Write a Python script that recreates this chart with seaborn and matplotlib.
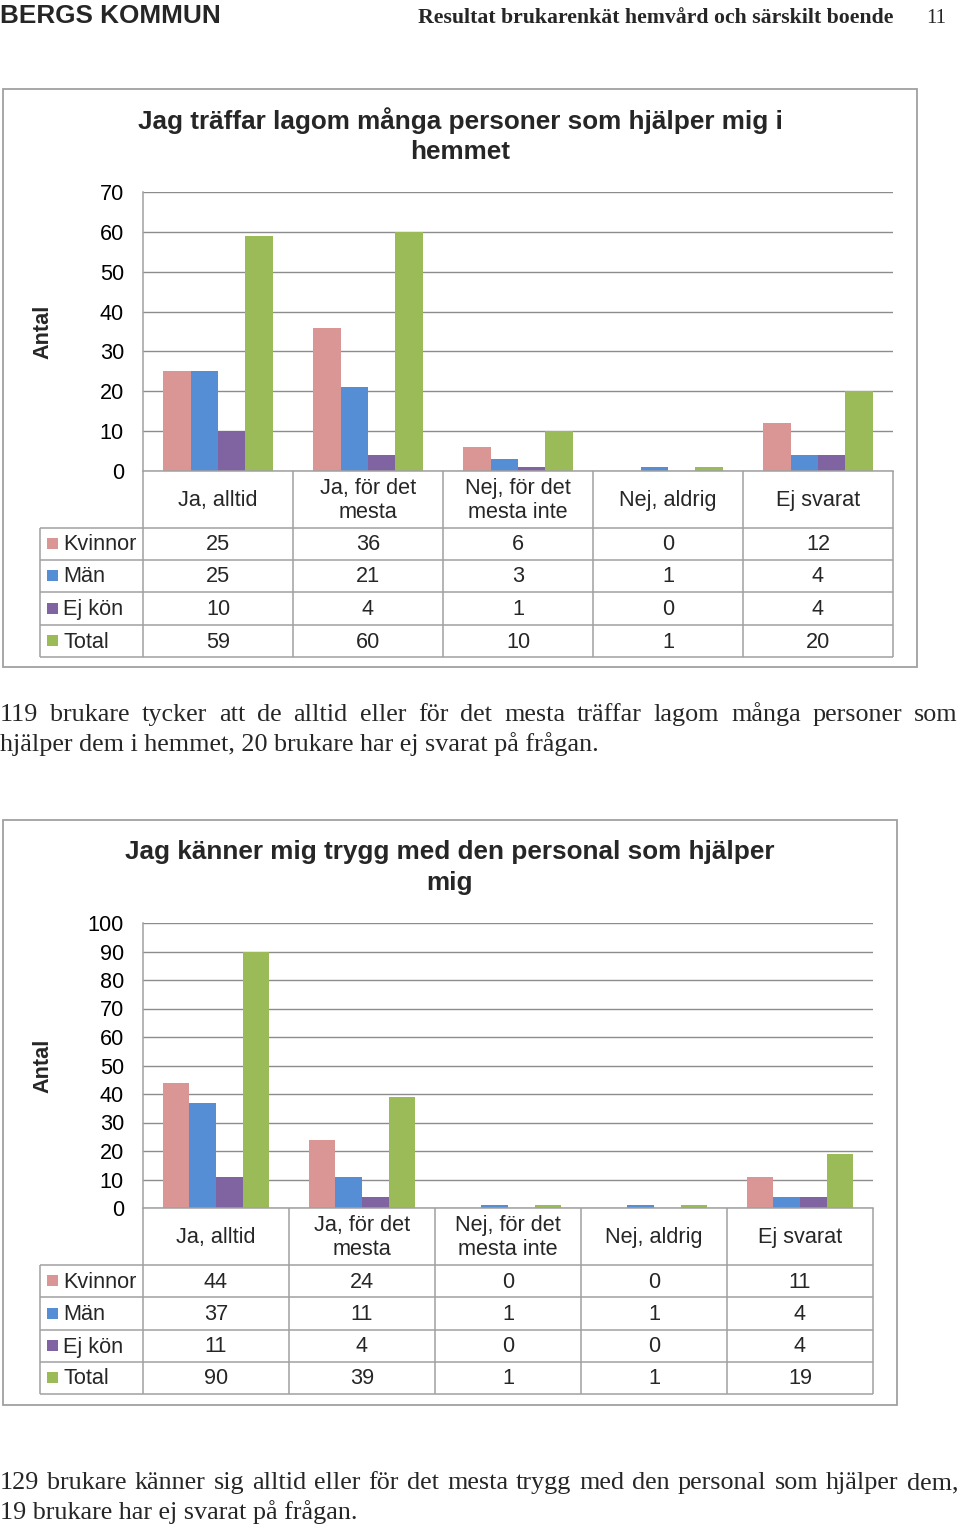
import numpy as np
import pandas as pd
import matplotlib
matplotlib.use("Agg")
import matplotlib.pyplot as plt
import seaborn as sns
from matplotlib.patches import Rectangle

# ---------------- data ----------------
categories = ["Ja, alltid", "Ja, för det\nmesta", "Nej, för det\nmesta inte", "Nej, aldrig", "Ej svarat"]
series = ["Kvinnor", "Män", "Ej kön", "Total"]

kvinnor1 = [25, 36, 6, 0, 12]
man1 = [25, 21, 3, 1, 4]
ejkon1 = [10, 4, 1, 0, 4]
total1 = [59, 60, 10, 1, 20]

kvinnor2 = [44, 24, 0, 0, 11]
man2 = [37, 11, 1, 1, 4]
ejkon2 = [11, 4, 0, 0, 4]
total2 = [90, 39, 1, 1, 19]

colors = ["#D99694", "#558ED5", "#8064A2", "#9BBB59"]

title1 = "Jag träffar lagom många personer som hjälper mig i\nhemmet"
title2 = "Jag känner mig trygg med den personal som hjälper\nmig"
yticks1 = list(range(0, 71, 10))
yticks2 = list(range(0, 101, 10))
ylabel = "Antal"

header_left = "BERGS KOMMUN"
header_right = "Resultat brukarenkät hemvård och särskilt boende"
page_no = "11"
para1 = ["119 brukare tycker att de alltid eller för det mesta träffar lagom många personer som",
         "hjälper dem i hemmet, 20 brukare har ej svarat på frågan."]
para2 = ["129 brukare känner sig alltid eller för det mesta trygg med den personal som hjälper dem,",
         "19 brukare har ej svarat på frågan."]

# ---------------- setup ----------------
sns.set_theme(style="white")
SANS = ["Liberation Sans", "DejaVu Sans"]
SERIF = ["Liberation Serif", "DejaVu Serif"]
plt.rcParams["font.family"] = SANS

W, H = 960, 1526
fig = plt.figure(figsize=(W / 100, H / 100), dpi=100)
fig.patch.set_facecolor("white")

LINE = "#A0A0A0"
GRID = "#8C8C8C"
FS = 15.6
TFS = 18.8


def px_axes(x0, y0, x1, y1):
    return fig.add_axes([x0 / W, 1 - y1 / H, (x1 - x0) / W, (y1 - y0) / H])


ov = fig.add_axes([0, 0, 1, 1], zorder=5)
ov.set_xlim(0, W)
ov.set_ylim(H, 0)
ov.axis("off")
ov.patch.set_alpha(0)


def hline(y, x0, x1, color=LINE, lw=1.1):
    ov.plot([x0, x1], [y, y], color=color, lw=lw, solid_capstyle="butt")


def vline(x, y0, y1, color=LINE, lw=1.1):
    ov.plot([x, x], [y0, y1], color=color, lw=lw, solid_capstyle="butt")


def chart(vals, yticks, title, tcx, ty, frame, plot, lab_bot, row_edges, antal_y):
    fx0, fy0, fx1, fy1 = frame
    ov.add_patch(Rectangle((fx0, fy0), fx1 - fx0, fy1 - fy0, fill=False,
                           edgecolor=LINE, lw=1.3))
    px0, py0, px1, py1 = plot
    ax = px_axes(px0, py0, px1, py1)
    rows = []
    for s, v in zip(series, vals):
        for c, x in zip(categories, v):
            rows.append({"cat": c, "series": s, "val": x})
    df = pd.DataFrame(rows)
    sns.barplot(data=df, x="cat", y="val", hue="series", order=categories,
                hue_order=series, palette=colors, saturation=1, width=0.73,
                linewidth=0, errorbar=None, legend=False, ax=ax)
    ax.set_xlim(-0.5, len(categories) - 0.5)
    ax.set_ylim(yticks[0], yticks[-1])
    ax.set_yticks(yticks)
    ax.set_yticklabels([str(t) for t in yticks])
    ax.set_xlabel("")
    ax.set_ylabel("")
    ax.tick_params(axis="x", bottom=False, labelbottom=False)
    ax.tick_params(axis="y", length=0, pad=13.7, labelsize=FS, colors="black")
    ax.yaxis.grid(True, color=GRID, lw=1.0)
    ax.set_axisbelow(True)
    for s in ["top", "right"]:
        ax.spines[s].set_visible(False)
    for s in ["left", "bottom"]:
        ax.spines[s].set_color(LINE)
        ax.spines[s].set_linewidth(1.1)
    ax.patch.set_alpha(0)

    # title (two lines) and axis label
    for k, ln in enumerate(title.split("\n")):
        ov.text(tcx, ty + 31 * k, ln, ha="center", va="center", fontsize=TFS,
                fontweight="bold", family=SANS)
    ov.text(43, antal_y, ylabel, rotation=90, ha="center", va="center",
            fontsize=FS, fontweight="bold", family=SANS)

    # data table
    colx = np.linspace(px0, px1, len(categories) + 1)
    for x in colx:
        vline(x, py1, row_edges[-1])
    vline(40, row_edges[0], row_edges[-1])
    for y in row_edges:
        hline(y, 40, px1)
    for i, c in enumerate(categories):
        cx = (colx[i] + colx[i + 1]) / 2
        ov.text(cx, (py1 + lab_bot) / 2 + 1, c, ha="center", va="center",
                fontsize=FS, linespacing=1.2, multialignment="center")
    for r, (s, v, col) in enumerate(zip(series, vals, colors)):
        cy = (row_edges[r] + row_edges[r + 1]) / 2
        ov.add_patch(Rectangle((47, cy - 6), 11, 11, facecolor=col, edgecolor="none"))
        ov.text(63, cy + 1, s, ha="left", va="center", fontsize=FS)
        for i, x in enumerate(v):
            cx = (colx[i] + colx[i + 1]) / 2
            ov.text(cx, cy + 1, str(x), ha="center", va="center", fontsize=FS)


chart([kvinnor1, man1, ejkon1, total1], yticks1, title1, 460, 121,
      (3, 89, 917, 667), (143, 192, 893, 471), 528,
      [528, 560, 592, 625, 657], 332)
chart([kvinnor2, man2, ejkon2, total2], yticks2, title2, 450, 852,
      (3, 820, 897, 1405), (143, 923, 873, 1208), 1265,
      [1265, 1297, 1330, 1362, 1394], 1066)

# header
ov.text(0, 23, header_left, ha="left", va="baseline", fontsize=TFS,
        fontweight="bold", family=SANS)
ov.text(893, 23, header_right, ha="right", va="baseline", fontsize=15.7,
        fontweight="bold", family=SERIF)
ov.text(946, 23, page_no, ha="right", va="baseline", fontsize=15, family=SERIF)

# paragraphs
renderer = fig.canvas.get_renderer()
PFS = 18.8


def justify(line, y, x0=0, x1=958):
    words = line.split(" ")
    ts = [ov.text(0, y, w, ha="left", va="baseline", fontsize=PFS, family=SERIF)
          for w in words]
    widths = [t.get_window_extent(renderer).width for t in ts]
    gap = (x1 - x0 - sum(widths)) / (len(words) - 1)
    x = x0
    for t, w in zip(ts, widths):
        t.set_x(x)
        x += w + gap


def plain(line, y):
    ov.text(0, y, line, ha="left", va="baseline", fontsize=PFS, family=SERIF)


justify(para1[0], 721)
plain(para1[1], 751)
justify(para2[0], 1489)
plain(para2[1], 1519)

fig.savefig("out.png", dpi=100, facecolor="white")
